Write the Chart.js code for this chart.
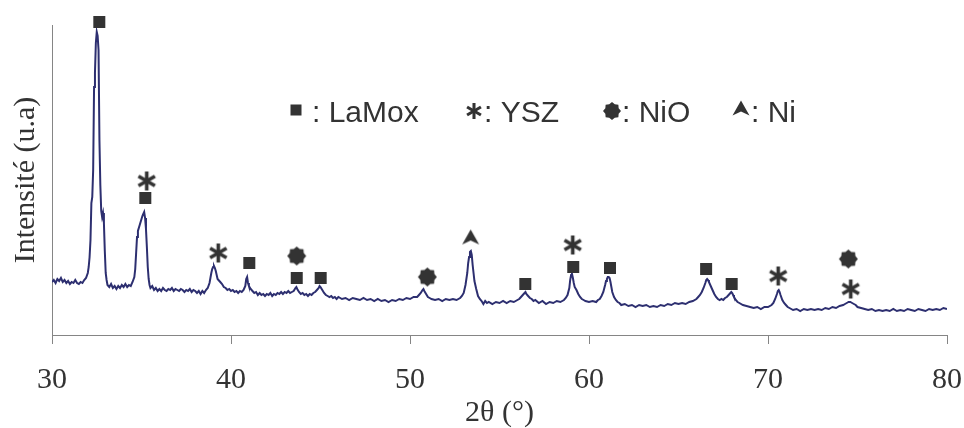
<!DOCTYPE html>
<html>
<head>
<meta charset="utf-8">
<script src="https://cdn.jsdelivr.net/npm/chart.js@4.4.1/dist/chart.umd.min.js"></script>
<style>
  html, body { margin: 0; padding: 0; background: #fff; }
  #wrap { width: 964px; height: 428px; }
</style>
</head>
<body>
<div id="wrap"><canvas id="xrd" width="964" height="428"></canvas></div>
<script>
// diffractogram (2theta in degrees, intensity in arbitrary units)
var twoTheta = [
  30.0,30.1,30.2,30.3,30.4,30.5,30.6,30.7,30.8,30.9,31.0,31.1,31.2,31.3,31.4,31.5,31.6,31.7,31.8,31.9,
  32.0,32.05,32.1,32.15,32.2,32.25,32.3,32.35,32.4,32.45,32.5,32.55,32.6,32.65,32.7,32.75,32.8,32.85,32.9,32.95,
  33.0,33.05,33.1,33.2,33.3,33.4,33.5,33.6,33.7,33.8,33.9,34.0,34.1,34.2,34.3,34.4,34.5,34.6,34.65,34.7,
  34.75,34.8,34.9,35.0,35.05,35.1,35.15,35.2,35.25,35.3,35.35,35.4,35.45,35.5,35.6,35.7,35.8,35.9,36.0,36.1,
  36.2,36.3,36.4,36.5,36.6,36.7,36.8,36.9,37.0,37.1,37.2,37.3,37.4,37.5,37.6,37.7,37.8,37.9,38.0,38.1,
  38.2,38.3,38.4,38.5,38.6,38.7,38.8,38.85,38.9,38.95,39.0,39.05,39.1,39.15,39.2,39.25,39.3,39.4,39.5,39.6,
  39.7,39.8,39.9,40.0,40.1,40.2,40.3,40.4,40.5,40.6,40.7,40.8,40.85,40.9,40.95,41.0,41.1,41.2,41.3,41.4,
  41.5,41.6,41.7,41.8,41.9,42.0,42.1,42.2,42.3,42.4,42.5,42.6,42.7,42.8,42.9,43.0,43.1,43.2,43.3,43.4,
  43.5,43.6,43.65,43.7,43.8,43.9,44.0,44.1,44.2,44.3,44.4,44.5,44.6,44.7,44.8,44.9,44.95,45.0,45.1,45.2,
  45.3,45.4,45.5,45.6,45.7,45.8,45.9,46.0,46.2,46.4,46.6,46.8,47.0,47.2,47.4,47.6,47.8,48.0,48.2,48.4,
  48.6,48.8,49.0,49.2,49.4,49.6,49.8,50.0,50.2,50.4,50.5,50.6,50.7,50.75,50.8,50.9,51.0,51.1,51.2,51.4,
  51.6,51.8,52.0,52.2,52.4,52.6,52.8,52.9,53.0,53.1,53.2,53.25,53.3,53.35,53.4,53.45,53.5,53.55,53.6,53.7,
  53.8,53.9,54.0,54.1,54.2,54.3,54.4,54.6,54.8,55.0,55.2,55.4,55.6,55.8,56.0,56.1,56.2,56.3,56.4,56.45,
  56.5,56.6,56.7,56.8,56.9,57.0,57.2,57.4,57.6,57.8,58.0,58.2,58.4,58.6,58.7,58.8,58.9,58.95,59.0,59.05,
  59.1,59.15,59.2,59.3,59.4,59.5,59.6,59.7,59.8,60.0,60.2,60.4,60.5,60.6,60.7,60.8,60.9,60.95,61.0,61.05,
  61.1,61.15,61.2,61.25,61.3,61.4,61.5,61.6,61.7,61.8,62.0,62.2,62.4,62.6,62.8,63.0,63.2,63.4,63.6,63.8,
  64.0,64.2,64.4,64.6,64.8,65.0,65.2,65.4,65.6,65.8,66.0,66.1,66.2,66.3,66.4,66.5,66.55,66.6,66.65,66.7,
  66.8,66.9,67.0,67.1,67.2,67.3,67.4,67.5,67.6,67.7,67.8,67.9,67.95,68.0,68.05,68.1,68.2,68.3,68.4,68.6,
  68.8,69.0,69.2,69.4,69.6,69.8,70.0,70.2,70.3,70.4,70.5,70.55,70.6,70.65,70.7,70.8,70.9,71.0,71.1,71.2,
  71.4,71.6,71.8,72.0,72.2,72.4,72.6,72.8,73.0,73.2,73.4,73.6,73.8,74.0,74.2,74.3,74.4,74.5,74.6,74.7,
  74.8,74.9,75.0,75.2,75.4,75.6,75.8,76.0,76.2,76.4,76.6,76.8,77.0,77.2,77.4,77.6,77.8,78.0,78.2,78.4,
  78.6,78.8,79.0,79.2,79.4,79.6,79.8,80.0
];
var intensity = [
  53,55,52,56,54,57,53,55,52,54,51,53,52,55,52,51,53,52,55,57,
  62,68,78,95,132,138,165,248,262,292,303,299,285,195,150,124,118,122,112,84,
  62,55,50,48,51,47,49,46,49,47,50,48,51,48,50,49,53,58,66,82,
  98,104,110,116,119,121,123,117,106,88,68,56,50,47,49,45,47,44,46,44,
  47,45,44,46,45,47,44,46,45,44,46,45,43,45,44,46,43,45,44,42,
  44,41,44,42,45,47,52,57,62,66,68,69,67,64,60,56,55,53,51,48,
  47,45,46,44,45,43,44,42,44,43,45,49,56,58,52,49,46,44,42,43,
  40,42,40,41,39,41,40,42,39,41,40,42,41,43,41,43,42,44,42,43,
  44,47,48,46,43,41,42,40,41,39,41,40,42,43,45,47,49,48,45,42,
  40,39,38,39,37,38,36,38,36,37,35,37,36,35,37,35,36,34,36,34,
  35,33,35,34,36,35,37,36,38,38,40,42,45,46,44,41,38,37,36,35,
  36,34,36,35,36,35,37,39,42,50,62,72,78,83,84,80,70,62,54,46,
  39,36,34,31,34,32,33,31,33,32,34,32,34,33,35,36,38,40,42,43,
  41,39,37,36,34,35,32,34,31,33,32,34,33,35,37,40,47,55,60,61,
  57,52,48,45,41,38,36,35,34,33,34,33,35,36,39,43,50,54,56,58,
  58,57,53,48,43,38,35,33,32,30,31,29,30,28,30,29,30,28,29,28,
  30,29,31,30,32,31,32,31,33,34,36,38,40,43,47,52,55,56,55,53,
  49,45,41,38,36,35,36,35,37,38,40,42,43,42,40,38,35,33,32,30,
  29,28,27,28,26,28,28,30,32,36,41,44,45,43,40,35,32,30,28,27,
  25,26,24,26,25,26,25,26,25,27,26,28,27,29,30,31,32,33,33,32,
  31,30,28,27,26,25,26,24,25,24,25,24,26,24,25,24,26,25,24,26,
  25,24,26,25,26,25,27,26
];

// phase markers placed above the peaks
var phaseNames = ['LaMox', 'YSZ', 'NiO', 'Ni'];
var lamoxX = [32.64, 35.21, 41.02, 43.67, 45.01, 56.44, 59.12, 61.17, 66.54, 67.97];
var lamoxY = [313, 137, 72, 57, 57, 51, 68, 67, 66, 51];
var yszX = [35.29, 39.29, 59.09, 70.57, 74.62];
var yszY = [154, 82, 90, 59, 46];
var nioX = [43.67, 50.97, 74.49];
var nioY = [79, 58, 76];
var niX = [53.39];
var niY = [97];

var ink = '#333333';

function drawSymbol(ctx, kind, cx, cy, s) {
  ctx.fillStyle = ink;
  ctx.strokeStyle = ink;
  if (kind === 'square') {
    ctx.fillRect(cx - s / 2, cy - s / 2, s, s);
  } else if (kind === 'asterisk') {
    ctx.lineWidth = s * 0.19;
    for (var a = 0; a < 3; a++) {
      var ang = Math.PI / 2 + a * Math.PI / 3;
      var dx = Math.cos(ang) * s / 2, dy = Math.sin(ang) * s / 2;
      ctx.beginPath();
      ctx.moveTo(cx - dx, cy - dy);
      ctx.lineTo(cx + dx, cy + dy);
      ctx.stroke();
    }
  } else if (kind === 'gear') {
    ctx.beginPath();
    for (var i = 0; i < 16; i++) {
      var r = i % 2 === 0 ? s / 2 : s / 2 * 0.8;
      var t = i * Math.PI / 8 - Math.PI / 2;
      var px = cx + Math.cos(t) * r, py = cy + Math.sin(t) * r;
      if (i === 0) ctx.moveTo(px, py); else ctx.lineTo(px, py);
    }
    ctx.closePath();
    ctx.fill();
  } else if (kind === 'arrow') {
    ctx.beginPath();
    ctx.moveTo(cx, cy - s * 0.5);
    ctx.lineTo(cx + s * 0.5, cy + s * 0.38);
    ctx.lineTo(cx, cy + s * 0.15);
    ctx.lineTo(cx - s * 0.5, cy + s * 0.38);
    ctx.closePath();
    ctx.fill();
  }
}

function symbolCanvas(kind, s) {
  var c = document.createElement('canvas');
  c.width = s + 4;
  c.height = s + 4;
  drawSymbol(c.getContext('2d'), kind, c.width / 2, c.height / 2, s);
  return c;
}

function pts(xs, ys) {
  return xs.map(function (x, i) { return { x: x, y: ys[i] }; });
}

var symbolKinds = ['square', 'asterisk', 'gear', 'arrow'];

// legend drawn as text inside the plot, like the original figure
var phaseLegend = {
  id: 'phaseLegend',
  afterDraw: function (chart) {
    var ctx = chart.ctx;
    var symX = [296, 474, 612, 741];
    var symY = [110, 111, 111, 109];
    var symS = [11, 16, 18, 17];
    var textX = [312, 484, 622, 751];
    ctx.save();
    ctx.font = '30px "Liberation Sans", Arial, sans-serif';
    ctx.textBaseline = 'alphabetic';
    ctx.textAlign = 'left';
    phaseNames.forEach(function (name, i) {
      drawSymbol(ctx, symbolKinds[i], symX[i], symY[i], symS[i]);
      ctx.fillStyle = ink;
      ctx.fillText(': ' + name, textX[i], 122);
    });
    ctx.restore();
  }
};

var serif = { family: '"Liberation Serif", "Times New Roman", serif', size: 30 };
var axisGray = '#858585';

function markerSet(label, xs, ys, kind, s) {
  return {
    type: 'scatter',
    label: label,
    data: pts(xs, ys),
    showLine: false,
    pointStyle: symbolCanvas(kind, s),
    pointRadius: 10,
    clip: false
  };
}

const ctx = document.getElementById('xrd');
const xrdChart = new Chart(ctx, {
  type: 'line',
  data: {
    datasets: [
      markerSet(phaseNames[0], lamoxX, lamoxY, 'square', 12),
      markerSet(phaseNames[1], yszX, yszY, 'asterisk', 19),
      markerSet(phaseNames[2], nioX, nioY, 'gear', 19),
      markerSet(phaseNames[3], niX, niY, 'arrow', 17),
      {
        label: 'XRD',
        data: pts(twoTheta, intensity),
        borderColor: '#2d2f70',
        borderWidth: 2,
        pointRadius: 0,
        tension: 0,
        fill: false
      }
    ]
  },
  options: {
    responsive: false,
    animation: false,
    devicePixelRatio: 1,
    layout: { padding: { top: 25, right: 17, left: 0, bottom: 0 } },
    plugins: {
      legend: { display: false },
      tooltip: { enabled: false }
    },
    scales: {
      x: {
        type: 'linear',
        min: 30,
        max: 80,
        ticks: { stepSize: 10, color: ink, font: serif, padding: 18, maxRotation: 0 },
        grid: { drawOnChartArea: false, drawTicks: true, tickLength: 9, color: axisGray },
        border: { color: axisGray, width: 1 },
        title: { display: true, text: '2θ (°)', color: ink, font: { family: serif.family, size: 30, lineHeight: 1 }, padding: { top: 0, bottom: 0 } },
        afterFit: function (scale) {
          scale.height = 93;
          scale.paddingLeft = 0;
          scale.paddingRight = 0;
        }
      },
      y: {
        min: 0,
        max: 310,
        ticks: { display: false },
        grid: { display: false },
        border: { display: true, color: axisGray, width: 1 },
        title: { display: true, text: 'Intensité (u.a)', color: ink, font: serif, padding: { top: 8, bottom: 0 } },
        afterFit: function (scale) {
          scale.width = 52;
          scale.paddingTop = 0;
          scale.paddingBottom = 0;
        }
      }
    }
  },
  plugins: [phaseLegend]
});
</script>
</body>
</html>
